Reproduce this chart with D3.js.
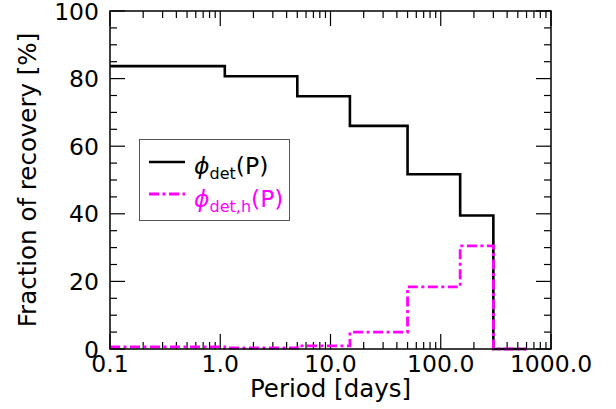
<!DOCTYPE html>
<html><head><meta charset="utf-8">
<script src="https://cdn.jsdelivr.net/npm/d3@7"></script>
<style>body{margin:0;background:#fff}svg{display:block}text{font-family:"DejaVu Sans",sans-serif}</style>
</head><body><svg id="c" width="616" height="409"></svg>
<script>
const binEdges = [0.1, 1.1, 5, 15, 50, 150, 300, 600];
const phiDet   = [83.7, 80.7, 74.8, 66.0, 51.7, 39.5, 0];
const phiDetH  = [0.6, 0.3, 0.9, 5.0, 18.4, 30.5, 0];
const xTickVals = [0.1, 1, 10, 100, 1000];
const xTickLabels = ["0.1", "1.0", "10.0", "100.0", "1000.0"];
const yTickVals = [0, 20, 40, 60, 80, 100];

const svg = d3.select("#c");
const L = 110, R = 551, T = 11, B = 349;
const x = d3.scaleLog().domain([0.1, 1000]).range([L, R]);
const y = d3.scaleLinear().domain([0, 100]).range([B, T]);

// minor ticks
const xMinor = [];
for (let e = -1; e < 3; e++) for (let k = 2; k <= 9; k++) xMinor.push(k * Math.pow(10, e));
const yMinor = d3.range(0, 101, 5).filter(v => v % 20 !== 0);

const g = svg.append("g");
function ticks(vals, len, isX) {
  vals.forEach(v => {
    if (isX) {
      g.append("line").attr("x1", x(v)).attr("x2", x(v)).attr("y1", B).attr("y2", B - len).attr("stroke", "#000").attr("stroke-width", 1.2);
      g.append("line").attr("x1", x(v)).attr("x2", x(v)).attr("y1", T).attr("y2", T + len).attr("stroke", "#000").attr("stroke-width", 1.2);
    } else {
      g.append("line").attr("x1", L).attr("x2", L + len).attr("y1", y(v)).attr("y2", y(v)).attr("stroke", "#000").attr("stroke-width", 1.2);
      g.append("line").attr("x1", R).attr("x2", R - len).attr("y1", y(v)).attr("y2", y(v)).attr("stroke", "#000").attr("stroke-width", 1.2);
    }
  });
}
ticks(xTickVals, 15, true);
ticks(xMinor, 7, true);
ticks(yTickVals, 15, false);
ticks(yMinor, 7, false);

// data lines
const pts = (vals) => binEdges.map((e, i) => [e, i < vals.length ? vals[i] : vals[vals.length - 1]]);
const line = d3.line().x(d => x(d[0])).y(d => y(d[1])).curve(d3.curveStepAfter);
svg.append("path").attr("d", line(pts(phiDet))).attr("fill", "none").attr("stroke", "#000").attr("stroke-width", 2.6);
svg.append("path").attr("d", line(pts(phiDetH))).attr("fill", "none").attr("stroke", "#ff00ff").attr("stroke-width", 2.8)
  .attr("stroke-dasharray", "10,3.5,3,3.5");

// frame
svg.append("rect").attr("x", L).attr("y", T).attr("width", R - L).attr("height", B - T)
  .attr("fill", "none").attr("stroke", "#000").attr("stroke-width", 1.5);

// tick labels
xTickVals.forEach((v, i) => {
  svg.append("text").attr("x", x(v)).attr("y", 372).attr("text-anchor", "middle")
    .attr("font-size", 23.5).text(xTickLabels[i]);
});
yTickVals.forEach(v => {
  svg.append("text").attr("x", 99).attr("y", y(v) + 8.5).attr("text-anchor", "end")
    .attr("font-size", 23.5).text(v);
});

// axis titles
svg.append("text").attr("x", (L + R) / 2).attr("y", 397).attr("text-anchor", "middle")
  .attr("font-size", 24.5).text("Period [days]");
svg.append("text").attr("transform", "translate(36,180) rotate(-90)").attr("text-anchor", "middle")
  .attr("font-size", 24.5).text("Fraction of recovery [%]");

// legend
const lg = svg.append("g");
lg.append("rect").attr("x", 139.5).attr("y", 139.5).attr("width", 150).attr("height", 81)
  .attr("fill", "#fff").attr("stroke", "#555").attr("stroke-width", 1);
lg.append("line").attr("x1", 149).attr("x2", 185).attr("y1", 162).attr("y2", 162).attr("stroke", "#000").attr("stroke-width", 2.6);
lg.append("line").attr("x1", 149).attr("x2", 185).attr("y1", 194).attr("y2", 194).attr("stroke", "#ff00ff").attr("stroke-width", 2.8).attr("stroke-dasharray", "10,3.5,3,3.5");
function legText(yb, sub, color) {
  const t = lg.append("text").attr("x", 194).attr("y", yb).attr("font-size", 23.5).attr("fill", color);
  t.append("tspan").attr("font-style", "italic").text("ϕ");
  t.append("tspan").attr("font-size", 16).attr("dy", 5).text(sub);
  t.append("tspan").attr("dy", -5).text("(P)");
}
legText(174, "det", "#000");
legText(207, "det,h", "#ff00ff");
</script></body></html>
